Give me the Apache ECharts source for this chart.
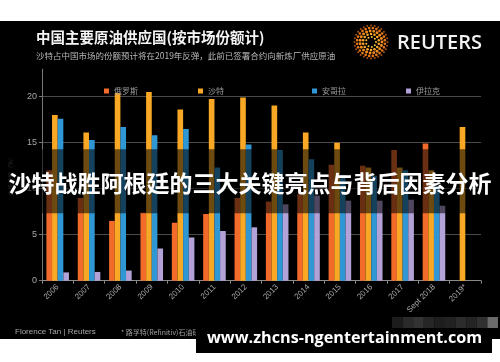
<!DOCTYPE html>
<html><head><meta charset="utf-8">
<script src="https://cdn.jsdelivr.net/npm/echarts@6/dist/echarts.min.js"></script>
<style>
html,body{margin:0;padding:0;background:#fff;width:500px;height:362px;overflow:hidden}
#bg{position:absolute;left:0;top:21px;width:500px;height:318px;background:#000}
#c{position:absolute;left:0;top:0;width:500px;height:362px}
</style></head>
<body><div id="bg"></div><div id="c"></div>
<script>
const categories = ['2006','2007','2008','2009','2010','2011','2012','2013','2014','2015','2016','2017','Sept 2018','2019*'];
const seriesNames = ['俄罗斯','沙特','安哥拉','伊拉克'];
const russia = [12.0, 9.0, 6.5, 7.4, 6.3, 7.25, 9.0, 8.6, 9.4, 12.6, 12.5, 14.2, 14.9, null];
const saudi  = [18.0, 16.1, 20.4, 20.5, 18.6, 19.75, 19.9, 19.05, 16.1, 15.0, 12.3, 12.3, 12.0, 16.7];
const angola = [17.6, 15.3, 16.7, 15.8, 16.5, 12.3, 14.8, 14.2, 13.2, 11.5, 11.4, 12.0, 10.3, null];
const iraq   = [0.9, 0.95, 1.1, 3.5, 4.7, 5.4, 5.8, 8.3, 9.25, 8.7, 8.7, 8.8, 8.15, null];
const yTicks = [0, 5, 10, 15, 20];

const titleText = '中国主要原油供应国(按市场份额计)';
const subtitleText = '沙特占中国市场的份额预计将在2019年反弹，此前已签署合约向新炼厂供应原油';
const bannerText = '沙特战胜阿根廷的三大关键亮点与背后因素分析';
const creditText = 'Florence Tan | Reuters';
const noteText = '* 路孚特(Refinitiv)石油研究2019年预估';
const watermarkText = 'www.zhcns-ngentertainment.com';

const colors = ['#f26b2b', '#f8a824', '#2f97d4', '#b3a2d8'];
const allData = [russia, saudi, angola, iraq];
const legendLefts = [99, 193, 307, 401];

const cjk = '"Noto Sans CJK SC", "Noto Sans", sans-serif';

const graphics = [];
// Reuters logo dots (decorative)
const cx = 371, cy = 42;
const rings = [{r:5,n:9,c:'#ffc43a',s:1.0},{r:8,n:14,c:'#fca92a',s:1.3},{r:11,n:19,c:'#f48f1f',s:1.45},{r:14,n:24,c:'#e4761a',s:1.35},{r:16.5,n:28,c:'#a85212',s:1.0}];
rings.forEach((rg, k) => {
  for (let i = 0; i < rg.n; i++) {
    const a = (i + (k % 2) * 0.5) / rg.n * Math.PI * 2;
    graphics.push({type:'circle', z:50, shape:{cx: cx + rg.r*Math.cos(a), cy: cy + rg.r*Math.sin(a), r: rg.s}, style:{fill: rg.c}});
  }
});
graphics.push(
  {type:'text', z:50, left:397, top:33, style:{text:'REUTERS', fill:'#f2f2f2', font:'600 20px "Open Sans", sans-serif'}},
  {type:'text', z:50, x:36, y:37, style:{text:titleText, fill:'#f4f4f4', font:'bold 14.5px ' + cjk, textVerticalAlign:'middle'}},
  {type:'text', z:50, x:36, y:55.5, style:{text:subtitleText, fill:'#b8b8b8', font:'8.5px ' + cjk, textVerticalAlign:'middle'}},
  {type:'text', z:50, x:15, y:332, style:{text:creditText, fill:'#a8a8a8', font:'8px "Liberation Sans", Arial, sans-serif', textVerticalAlign:'middle'}},
  {type:'text', z:50, x:121, y:332, style:{text:noteText, fill:'#a0a0a0', font:'7px ' + cjk, textVerticalAlign:'middle'}}
);
// mosaic blocks
const mos = ['#1c1c1c','#2a2a2a','#333333','#262626','#1e1e1e','#222222','#2c2c2c','#242424','#303030','#6a6a6a'];
mos.forEach((c, i) => {
  graphics.push({type:'rect', z:60, shape:{x: 392 + i*10.6, y: 317, width: 10.6, height: 11}, style:{fill:c}});
});
graphics.push(
  {type:'rect', z:100, shape:{x:0, y:149.3, width:500, height:64}, style:{fill:'rgba(0,0,0,0.56)'}},
  {type:'text', z:101, x:250, y:183, style:{text:bannerText, fill:'#ffffff', font:'bold 23px ' + cjk, textAlign:'center', textVerticalAlign:'middle'}},
  {type:'rect', z:100, shape:{x:196, y:329, width:296, height:24}, style:{fill:'#000'}},
  {type:'text', z:101, x:207, y:338, style:{text:watermarkText, fill:'#ffffff', font:'bold 16.2px "Open Sans", "DejaVu Sans", sans-serif', textVerticalAlign:'middle'}}
);

const chart = echarts.init(document.getElementById('c'), null, {renderer:'canvas'});
chart.setOption({
  backgroundColor: 'transparent',
  animation: false,
  legend: seriesNames.map((n, i) => ({
    data: [n], left: legendLefts[i], top: 82, itemWidth: 5, itemHeight: 5, itemGap: 4, icon: 'rect',
    textStyle: {color: '#9a9a9a', fontSize: 8, fontFamily: cjk}
  })),
  grid: {left: 37, right: 19, top: 69.1, bottom: 81.3},
  xAxis: {
    type: 'category', data: categories,
    axisLine: {lineStyle: {color: '#8a8a8a'}},
    axisTick: {show: true, length: 3, lineStyle: {color: '#8a8a8a'}},
    axisLabel: {rotate: 45, interval: 0, color: '#a8a8a8', fontSize: 8, margin: 5, fontFamily: '"Liberation Sans", Arial, sans-serif'}
  },
  yAxis: {
    type: 'value', min: 0, max: 23, interval: 5,
    name: '市场份额（%）', nameLocation: 'middle', nameRotate: 90, nameGap: 28,
    nameTextStyle: {color: '#555', fontSize: 6, fontFamily: cjk},
    axisLine: {show: true, lineStyle: {color: '#777'}},
    axisTick: {show: true, length: 3, lineStyle: {color: '#777'}},
    axisLabel: {color: '#a8a8a8', fontSize: 9, margin: 5, showMaxLabel: false,
      formatter: v => yTicks.indexOf(v) >= 0 ? String(v) : ''},
    splitLine: {show: true, showMaxLine: false, lineStyle: {color: '#4a4a4a', width: 1}}
  },
  series: seriesNames.map((n, i) => ({
    name: n, type: 'bar', data: allData[i], barGap: '0%', barCategoryGap: '28%',
    itemStyle: {color: colors[i]}
  })),
  graphic: graphics
});
</script></body></html>
